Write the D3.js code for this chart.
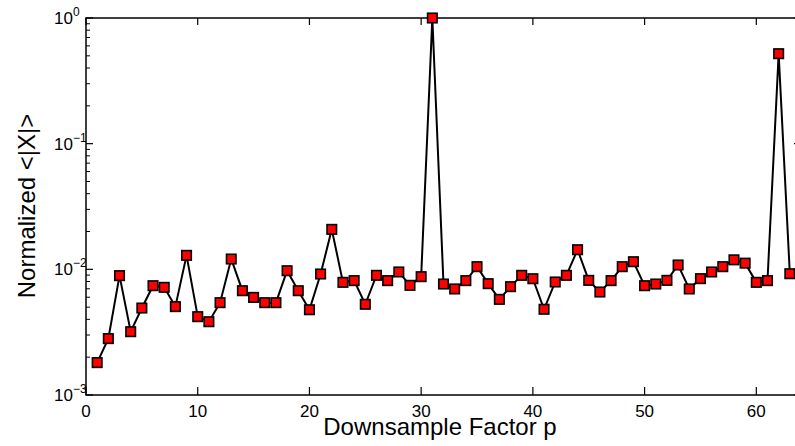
<!DOCTYPE html>
<html>
<head>
<meta charset="utf-8">
<script src="https://cdn.jsdelivr.net/npm/d3@7"></script>
<style>
  html, body { margin: 0; padding: 0; background: #fff; }
  svg { display: block; font-family: "Liberation Sans", Arial, sans-serif; }
</style>
</head>
<body>
<svg id="chart" width="795" height="446"></svg>
<script>
// ---- Data ----
const factors = [1,2,3,4,5,6,7,8,9,10,11,12,13,14,15,16,17,18,19,20,21,22,23,24,25,26,27,28,29,30,31,32,33,34,35,36,37,38,39,40,41,42,43,44,45,46,47,48,49,50,51,52,53,54,55,56,57,58,59,60,61,62,63];
const normalizedMag = [
  0.00181, 0.00281, 0.00891, 0.00319, 0.00492, 0.00741, 0.00719, 0.00505, 0.01292, 0.00420,
  0.00383, 0.00543, 0.01208, 0.00676, 0.00598, 0.00543, 0.00543, 0.00975, 0.00676, 0.00477,
  0.00918, 0.0208,  0.00788, 0.00813, 0.00527, 0.00896, 0.00813, 0.00953, 0.00746, 0.00874,
  1.0,     0.00764, 0.00698, 0.00813, 0.0105,  0.00769, 0.00577, 0.00728, 0.00896, 0.00842,
  0.00481, 0.00793, 0.00896, 0.01433, 0.00817, 0.00660, 0.00813, 0.0105,  0.0115,  0.00741,
  0.00764, 0.00817, 0.01083, 0.00698, 0.00843, 0.00953, 0.0105,  0.0119,  0.0112,  0.00788,
  0.00813, 0.520,   0.00923
];
const xTicks = [0, 10, 20, 30, 40, 50, 60];
const yDecades = [1e-3, 1e-2, 1e-1, 1e0];
const yDecadeExps = ["\u22123", "\u22122", "\u22121", "0"];
const xTitle = "Downsample Factor p";
const yTitle = "Normalized <|X|>";

// ---- Layout ----
const svg = d3.select("#chart");
const pLeft = 86, pRight = 801, pTop = 18, pBottom = 395;

const x = d3.scaleLinear().domain([0, 64]).range([pLeft, pRight]);
const y = d3.scaleLog().domain([1e-3, 1]).range([pBottom, pTop]);

// minor ticks
const minor = [];
for (let e = -3; e < 0; e++) {
  for (let m = 2; m <= 9; m++) minor.push(m * Math.pow(10, e));
}

const axisG = svg.append("g");

// Frame
axisG.append("rect")
  .attr("x", pLeft).attr("y", pTop)
  .attr("width", pRight - pLeft).attr("height", pBottom - pTop)
  .attr("fill", "none").attr("stroke", "#000").attr("stroke-width", 1.5);

// X ticks (bottom + top, inward)
xTicks.forEach(t => {
  axisG.append("line").attr("x1", x(t)).attr("x2", x(t))
    .attr("y1", pBottom).attr("y2", pBottom - 8)
    .attr("stroke", "#000").attr("stroke-width", 1.2);
  axisG.append("line").attr("x1", x(t)).attr("x2", x(t))
    .attr("y1", pTop).attr("y2", pTop + 7)
    .attr("stroke", "#000").attr("stroke-width", 1.2);
  axisG.append("text").attr("x", x(t)).attr("y", pBottom + 22)
    .attr("text-anchor", "middle").attr("font-size", 17).attr("fill", "#000")
    .text(t);
});

// Y major ticks
yDecades.forEach((v, i) => {
  [pLeft, pRight].forEach((ax, j) => {
    const dir = j === 0 ? 1 : -1;
    axisG.append("line").attr("x1", ax).attr("x2", ax + dir * 7)
      .attr("y1", y(v)).attr("y2", y(v))
      .attr("stroke", "#000").attr("stroke-width", 1.2);
  });
  const t = axisG.append("text").attr("x", 54).attr("y", y(v) + 6)
    .attr("font-size", 17).attr("fill", "#000");
  t.append("tspan").text("10");
  t.append("tspan").attr("dy", -8).attr("font-size", 12).text(yDecadeExps[i]);
});

// Y minor ticks
minor.forEach(v => {
  [pLeft, pRight].forEach((ax, j) => {
    const dir = j === 0 ? 1 : -1;
    axisG.append("line").attr("x1", ax).attr("x2", ax + dir * 4)
      .attr("y1", y(v)).attr("y2", y(v))
      .attr("stroke", "#000").attr("stroke-width", 1);
  });
});

// Axis titles
svg.append("text").attr("x", 440).attr("y", 435)
  .attr("text-anchor", "middle").attr("font-size", 24).attr("fill", "#000")
  .text(xTitle);
svg.append("text")
  .attr("transform", `translate(35,206) rotate(-90)`)
  .attr("text-anchor", "middle").attr("font-size", 24).attr("fill", "#000")
  .text(yTitle);

// Data line
const pts = factors.map((f, i) => [f, normalizedMag[i]]);
const line = d3.line().x(d => x(d[0])).y(d => y(d[1]));
svg.append("path").datum(pts)
  .attr("d", line).attr("fill", "none")
  .attr("stroke", "#000").attr("stroke-width", 2).attr("stroke-linejoin", "miter");

// Markers
const s = 9.5;
svg.append("g").selectAll("rect").data(pts).join("rect")
  .attr("x", d => x(d[0]) - s / 2).attr("y", d => y(d[1]) - s / 2)
  .attr("width", s).attr("height", s)
  .attr("fill", "#ff0000").attr("stroke", "#000").attr("stroke-width", 1.6);
</script>
</body>
</html>
